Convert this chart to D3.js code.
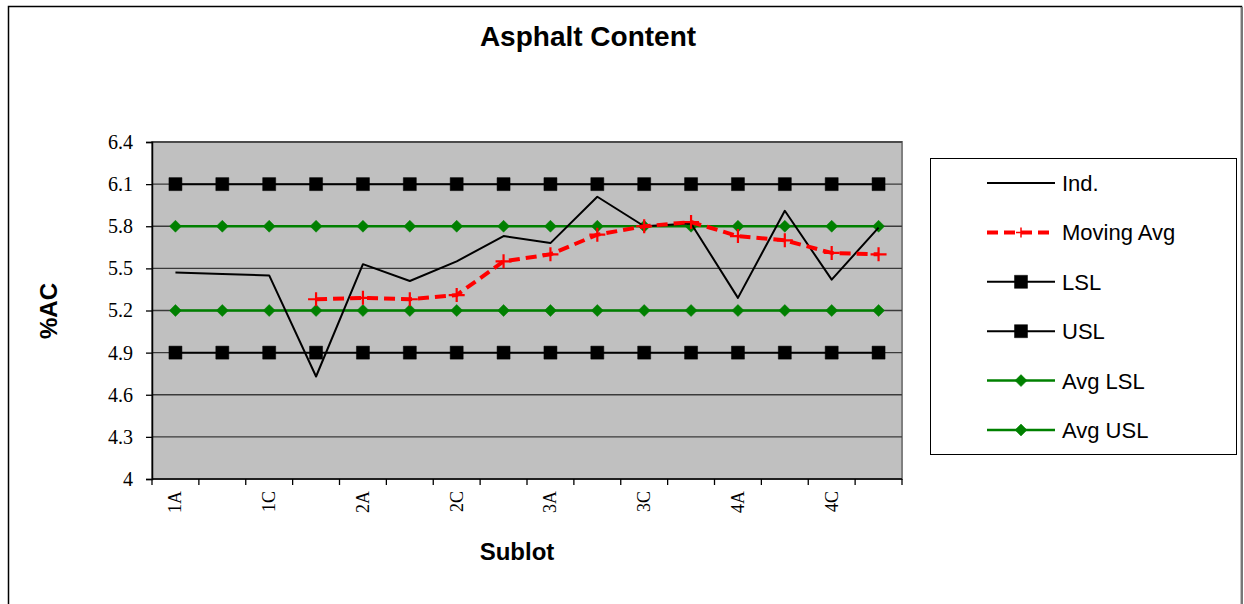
<!DOCTYPE html>
<html>
<head>
<meta charset="utf-8">
<script src="https://cdn.jsdelivr.net/npm/d3@7"></script>
<style>
  body { margin: 0; background: #fff; }
  svg { display: block; }
</style>
</head>
<body>
<div id="viz"></div>
<script>
const width = 1244;
const height = 604;
const plot = {left: 152, right: 902, top: 142, bottom: 479};

// data
const sublots = ['1A','1B','1C','1D','2A','2B','2C','2D','3A','3B','3C','3D','4A','4B','4C','4D'];
const shownLabels = ['1A','1C','2A','2C','3A','3C','4A','4C'];
const indValues = [5.47, 5.46, 5.45, 4.73, 5.53, 5.41, 5.55, 5.73, 5.68, 6.01, 5.80, 5.82, 5.29, 5.91, 5.42, 5.79];
const movingAvg = [null, null, null, 5.28, 5.29, 5.28, 5.31, 5.55, 5.60, 5.74, 5.80, 5.83, 5.73, 5.70, 5.61, 5.60];
const lsl = sublots.map(() => 4.9);
const usl = sublots.map(() => 6.1);
const avgLsl = sublots.map(() => 5.2);
const avgUsl = sublots.map(() => 5.8);
const yTicks = [4, 4.3, 4.6, 4.9, 5.2, 5.5, 5.8, 6.1, 6.4];
const legendNames = ['Ind.', 'Moving Avg', 'LSL', 'USL', 'Avg LSL', 'Avg USL'];

const green = '#008000';
const sans = '"Liberation Sans", Arial, sans-serif';
const serif = '"Liberation Serif", "Times New Roman", serif';

const svg = d3.select('#viz')
    .append('svg')
        .attr('width', width)
        .attr('height', height);

// outer chart frame
svg.append('rect')
    .attr('x', 8.5).attr('y', 6.5)
    .attr('width', 1233).attr('height', 620)
    .attr('fill', '#fff')
    .attr('stroke', '#000')
    .attr('stroke-width', 1.5);
svg.append('line')
    .attr('x1', 1242).attr('x2', 1242).attr('y1', 7).attr('y2', 604)
    .attr('stroke', '#777').attr('stroke-width', 2);

const x = d3.scaleBand()
    .domain(sublots)
    .range([plot.left, plot.right]);
const xc = d => x(d) + x.bandwidth() / 2;

const y = d3.scaleLinear()
    .domain([4, 6.4])
    .range([plot.bottom, plot.top]);

// plot area
svg.append('rect')
    .attr('x', plot.left).attr('y', plot.top)
    .attr('width', plot.right - plot.left).attr('height', plot.bottom - plot.top)
    .attr('fill', '#c0c0c0')
    .attr('stroke', '#808080')
    .attr('stroke-width', 2);

// gridlines
svg.append('g')
    .selectAll('line')
    .data(yTicks.slice(1))
    .join('line')
        .attr('x1', plot.left).attr('x2', plot.right)
        .attr('y1', d => y(d)).attr('y2', d => y(d))
        .attr('stroke', '#3a3a3a')
        .attr('stroke-width', 1.3);

// y axis
const yAxis = svg.append('g')
    .attr('transform', `translate(${plot.left}, 0)`)
    .call(d3.axisLeft(y).tickValues(yTicks).tickSize(6).tickPadding(13).tickFormat(d => String(d)));
yAxis.select('.domain').attr('stroke', '#000').attr('stroke-width', 1.5);
yAxis.selectAll('.tick line').attr('stroke', '#000').attr('stroke-width', 1.3);
yAxis.selectAll('text')
    .attr('font-family', serif)
    .attr('font-size', 20)
    .attr('fill', '#000');

// x axis (ticks at category boundaries)
const xAxis = svg.append('g');
xAxis.append('line')
    .attr('x1', plot.left).attr('x2', plot.right)
    .attr('y1', plot.bottom).attr('y2', plot.bottom)
    .attr('stroke', '#000').attr('stroke-width', 1.5);
xAxis.selectAll('line.tk')
    .data(sublots.map(d => x(d)).concat([plot.right]))
    .join('line')
        .attr('class', 'tk')
        .attr('x1', d => d).attr('x2', d => d)
        .attr('y1', plot.bottom).attr('y2', plot.bottom + 6)
        .attr('stroke', '#000').attr('stroke-width', 1.3);
xAxis.selectAll('text')
    .data(shownLabels)
    .join('text')
        .attr('transform', d => `translate(${xc(d) + 6}, ${plot.bottom + 12}) rotate(-90)`)
        .attr('text-anchor', 'end')
        .attr('font-family', serif)
        .attr('font-size', 18)
        .attr('fill', '#000')
        .text(d => d);

// titles
svg.append('text')
    .attr('x', 588).attr('y', 46)
    .attr('text-anchor', 'middle')
    .attr('font-family', sans)
    .attr('font-weight', 'bold')
    .attr('font-size', 28)
    .text('Asphalt Content');

svg.append('text')
    .attr('x', 517).attr('y', 560)
    .attr('text-anchor', 'middle')
    .attr('font-family', sans)
    .attr('font-weight', 'bold')
    .attr('font-size', 24)
    .text('Sublot');

svg.append('text')
    .attr('transform', `translate(57, 311) rotate(-90)`)
    .attr('text-anchor', 'middle')
    .attr('font-family', sans)
    .attr('font-weight', 'bold')
    .attr('font-size', 24)
    .text('%AC');

// series
const line = d3.line()
    .defined(d => d.v !== null)
    .x(d => xc(d.c))
    .y(d => y(d.v));
const pairs = vals => sublots.map((c, i) => ({c: c, v: vals[i]}));

function drawSeries(vals, stroke, sw, dash, marker) {
    const g = svg.append('g');
    g.append('path')
        .attr('d', line(pairs(vals)))
        .attr('fill', 'none')
        .attr('stroke', stroke)
        .attr('stroke-width', sw)
        .attr('stroke-dasharray', dash)
        .attr('stroke-linejoin', 'round');
    if (marker) {
        g.selectAll('path.mk')
            .data(pairs(vals).filter(d => d.v !== null))
            .join('path')
                .attr('class', 'mk')
                .attr('transform', d => `translate(${xc(d.c)}, ${y(d.v)})`)
                .attr('d', marker.d)
                .attr('fill', marker.fill)
                .attr('stroke', marker.stroke)
                .attr('stroke-width', marker.sw);
    }
}

const squareMk = {d: 'M-6.5,-6.5H6.5V6.5H-6.5Z', fill: '#000', stroke: '#000', sw: 0.5};
const diamondMk = {d: 'M0,-6L6,0L0,6L-6,0Z', fill: green, stroke: green, sw: 0.5};
const plusMk = {d: 'M-8,0H8M0,-7V7', fill: 'none', stroke: '#ff0000', sw: 2.2};

drawSeries(avgLsl, green, 2.5, null, diamondMk);
drawSeries(avgUsl, green, 2.5, null, diamondMk);
drawSeries(lsl, '#000', 2, null, squareMk);
drawSeries(usl, '#000', 2, null, squareMk);
drawSeries(indValues, '#000', 2, null, null);
drawSeries(movingAvg, '#ff0000', 4, '11,6', plusMk);

// legend
const legend = svg.append('g');
legend.append('rect')
    .attr('x', 930.5).attr('y', 158.5)
    .attr('width', 306).attr('height', 296)
    .attr('fill', '#fff')
    .attr('stroke', '#000')
    .attr('stroke-width', 1);

const legendStyles = [
    {stroke: '#000', sw: 2, dash: null, mk: null},
    {stroke: '#ff0000', sw: 4, dash: '11,6', mk: {d: 'M-5,0H5M0,-5V5', fill: 'none', stroke: '#ff0000', sw: 1.5}},
    {stroke: '#000', sw: 2, dash: null, mk: squareMk},
    {stroke: '#000', sw: 2, dash: null, mk: squareMk},
    {stroke: green, sw: 2.5, dash: null, mk: diamondMk},
    {stroke: green, sw: 2.5, dash: null, mk: diamondMk}
];

const ly = d3.scalePoint().domain(legendNames).range([183, 430]);
const item = legend.selectAll('g.item')
    .data(legendNames)
    .join('g')
        .attr('class', 'item')
        .attr('transform', d => `translate(0, ${ly(d)})`);
item.append('line')
    .attr('x1', 987).attr('x2', 1055)
    .attr('stroke', (d, i) => legendStyles[i].stroke)
    .attr('stroke-width', (d, i) => legendStyles[i].sw)
    .attr('stroke-dasharray', (d, i) => legendStyles[i].dash);
item.filter((d, i) => legendStyles[i].mk)
    .append('path')
        .attr('transform', 'translate(1021, 0)')
        .attr('d', d => legendStyles[legendNames.indexOf(d)].mk.d)
        .attr('fill', d => legendStyles[legendNames.indexOf(d)].mk.fill)
        .attr('stroke', d => legendStyles[legendNames.indexOf(d)].mk.stroke)
        .attr('stroke-width', d => legendStyles[legendNames.indexOf(d)].mk.sw);
item.append('text')
    .attr('x', 1062)
    .attr('y', 8)
    .attr('font-family', sans)
    .attr('font-size', 22)
    .text(d => d);
</script>
</body>
</html>
